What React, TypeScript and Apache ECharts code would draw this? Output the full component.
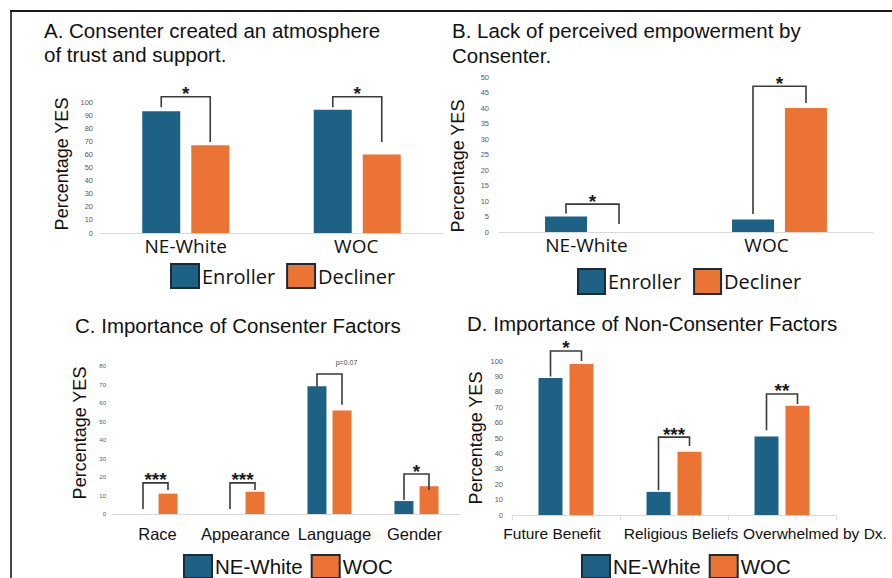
import React, { useEffect, useRef } from "react";
import * as echarts from "echarts";

// ---------- data ----------
const catsAB = ["NE-White", "WOC"];
const enrollerA = [93, 94];
const declinerA = [67, 60];
const bracketsA = [
  [0, 96, 104, 69.5],
  [1, 96, 104, 69.5],
];
const bracketLabelsA = ["*", "*"];

const enrollerB = [5, 4];
const declinerB = [0, 40];
const bracketsB = [
  [0, 6, 9, 2.6],
  [1, 5.8, 47, 41.6],
];
const bracketLabelsB = ["*", "*"];

const catsC = ["Race", "Appearance", "Language", "Gender"];
const neWhiteC = [0, 0, 69, 7];
const wocC = [11, 12, 56, 15];
const bracketsC = [
  [0, 2.7, 16.8, 13],
  [1, 2.7, 16.8, 13],
  [2, 69, 75.7, 59],
  [3, 7.6, 21.6, 13],
];
const bracketLabelsC = ["***", "***", "p=0.07", "*"];

const catsD = ["Future Benefit", "Religious Beliefs", "Overwhelmed by Dx."];
const neWhiteD = [89, 15, 51];
const wocD = [98, 41, 71];
const bracketsD = [
  [0, 90, 106.5, 100],
  [1, 16, 50.6, 44.8],
  [2, 55, 78.6, 72],
];
const bracketLabelsD = ["*", "***", "**"];

const titleA = ["A. Consenter created an atmosphere", "of trust and support."];
const titleB = ["B. Lack of perceived empowerment by", "Consenter."];
const titleC = "C. Importance of Consenter Factors";
const titleD = "D. Importance of Non-Consenter Factors";
const yName = "Percentage YES";

// ---------- styles ----------
const BLUE = "#1d6184";
const ORANGE = "#eb7434";
const WIDE = "Open Sans";
const ARIAL = "Liberation Sans";

function bracketSeries(
  idx: number,
  data: number[][],
  labels: string[],
  barW: number,
  gap: number
) {
  return {
    type: "custom",
    xAxisIndex: idx,
    yAxisIndex: idx,
    data,
    silent: true,
    clip: false,
    z: 5,
    renderItem: (params: any, api: any) => {
      const cat = api.value(0);
      const half = (barW + gap) / 2;
      const pL = api.coord([cat, api.value(1)]);
      const pT = api.coord([cat, api.value(2)]);
      const pR = api.coord([cat, api.value(3)]);
      const xl = pL[0] - half;
      const xr = pL[0] + half;
      const label = labels[params.dataIndex];
      const isP = label.startsWith("p");
      return {
        type: "group",
        children: [
          {
            type: "polyline",
            shape: {
              points: [
                [xl, pL[1]],
                [xl, pT[1]],
                [xr, pT[1]],
                [xr, pR[1]],
              ],
            },
            style: { stroke: "#3a3a3a", lineWidth: 1.6, fill: null },
          },
          {
            type: "text",
            x: isP ? (xl + xr) / 2 + 17 : (xl + xr) / 2,
            y: isP ? pT[1] - 11 : pT[1] - 3,
            style: {
              text: label,
              fontSize: isP ? 7 : 19,
              fontWeight: isP ? "normal" : "bold",
              fontFamily: ARIAL,
              textAlign: "center",
              textVerticalAlign: "middle",
              fill: isP ? "#444" : "#1a1a1a",
            },
          },
        ],
      };
    },
  };
}

function padLabels(shifts: number[]) {
  const rich: any = {};
  shifts.forEach((s, i) => {
    rich["l" + i] = {
      padding: s >= 0 ? [0, 0, 0, 2 * s] : [0, -2 * s, 0, 0],
    };
  });
  return rich;
}

export default function App() {
  const ref = useRef<HTMLDivElement>(null);
  useEffect(() => {
    if (!ref.current) return;
    const chart = echarts.init(ref.current, null, { renderer: "svg" });

    const grids = [
      { left: 100, top: 102, width: 343, height: 131 },
      { left: 499, top: 77, width: 374, height: 155 },
      { left: 112, top: 366, width: 348, height: 148 },
      { left: 512, top: 361, width: 324, height: 154 },
    ];

    const catLists = [catsAB, catsAB, catsC, catsD];
    const labelFonts = [
      { fontSize: 19, fontFamily: WIDE, margin: 3 },
      { fontSize: 19, fontFamily: WIDE, margin: 3 },
      { fontSize: 16.5, fontFamily: ARIAL, margin: 11 },
      { fontSize: 15.5, fontFamily: ARIAL, margin: 10 },
    ];
    const shifts = [
      [0, -1],
      [-6, -13],
      [2, 3, 5, -2],
      [-14, 7, 33],
    ];

    const xAxis = catLists.map((cats, i) => ({
      type: "category",
      gridIndex: i,
      data: cats,
      axisLine: { show: true, lineStyle: { color: "#d9d9d9", width: 1 } },
      axisTick: {
        show: i === 3,
        length: 5,
        lineStyle: { color: "#d9d9d9" },
      },
      axisLabel: {
        interval: 0,
        color: "#111",
        fontSize: labelFonts[i].fontSize,
        fontFamily: labelFonts[i].fontFamily,
        margin: labelFonts[i].margin,
        formatter: (v: string) => {
          const k = cats.indexOf(v);
          return "{l" + k + "|" + v + "}";
        },
        rich: padLabels(shifts[i]),
      },
    }));

    const yCfg = [
      { max: 100, interval: 10, fs: 7.5, margin: 7 },
      { max: 50, interval: 5, fs: 7.5, margin: 10 },
      { max: 80, interval: 10, fs: 6, margin: 6 },
      { max: 100, interval: 10, fs: 7.5, margin: 9 },
    ];
    const yAxis = yCfg.map((c, i) => ({
      type: "value",
      gridIndex: i,
      min: 0,
      max: c.max,
      interval: c.interval,
      splitLine: { show: false },
      axisLine: { show: false },
      axisTick: { show: false },
      axisLabel: {
        fontSize: c.fs,
        color: "#595959",
        fontFamily: ARIAL,
        margin: c.margin,
      },
    }));

    const bar = (
      name: string,
      idx: number,
      data: number[],
      color: string,
      w: number,
      gap: string
    ) => ({
      type: "bar",
      name,
      xAxisIndex: idx,
      yAxisIndex: idx,
      data,
      barWidth: w,
      barGap: gap,
      itemStyle: { color },
    });

    const series: any[] = [
      bar("Enroller", 0, enrollerA, BLUE, 38, "29%"),
      bar("Decliner", 0, declinerA, ORANGE, 38, "29%"),
      bar("Enroller", 1, enrollerB, BLUE, 42, "26%"),
      bar("Decliner", 1, declinerB, ORANGE, 42, "26%"),
      bar("NE-White", 2, neWhiteC, BLUE, 19, "32%"),
      bar("WOC", 2, wocC, ORANGE, 19, "32%"),
      bar("NE-White", 3, neWhiteD, BLUE, 24, "29%"),
      bar("WOC", 3, wocD, ORANGE, 24, "29%"),
      bracketSeries(0, bracketsA, bracketLabelsA, 38, 11),
      bracketSeries(1, bracketsB, bracketLabelsB, 42, 11),
      bracketSeries(2, bracketsC, bracketLabelsC, 19, 6),
      bracketSeries(3, bracketsD, bracketLabelsD, 24, 7),
    ];

    const legendBase = (
      data: string[],
      left: number,
      top: number,
      w: number,
      h: number,
      fs: number,
      gap: number,
      family: string
    ) => ({
      data,
      left,
      top,
      orient: "horizontal",
      padding: 0,
      itemWidth: w,
      itemHeight: h,
      itemGap: gap,
      icon: "rect",
      selectedMode: false,
      itemStyle: { borderColor: "#1c2b38", borderWidth: 2 },
      textStyle: {
        fontSize: fs,
        fontFamily: family,
        color: "#111",
        lineHeight: h - 2,
        padding: [0, 0, 0, -2],
      },
    });

    const titleStyle = {
      fontSize: 20.5,
      fontWeight: "normal",
      fontFamily: ARIAL,
      color: "#111",
      lineHeight: 22,
    };

    const yNames = [
      { x: 62, y: 164 },
      { x: 458, y: 166 },
      { x: 80, y: 433 },
      { x: 476, y: 438 },
    ];

    chart.setOption({
      animation: false,
      backgroundColor: "#ffffff",
      grid: grids,
      xAxis,
      yAxis,
      series,
      title: [
        { text: titleA[0], left: 44, top: 19, padding: 0, textStyle: titleStyle },
        { text: titleA[1], left: 44, top: 43, padding: 0, textStyle: titleStyle },
        { text: titleB[0], left: 452, top: 19, padding: 0, textStyle: titleStyle },
        { text: titleB[1], left: 452, top: 44, padding: 0, textStyle: titleStyle },
        { text: titleC, left: 75, top: 314, padding: 0, textStyle: titleStyle },
        { text: titleD, left: 467, top: 312, padding: 0, textStyle: titleStyle },
      ],
      legend: [
        legendBase(["Enroller", "Decliner"], 170, 263, 28, 24, 20, 11, WIDE),
        legendBase(["Enroller", "Decliner"], 577, 268, 27, 25, 20, 12, WIDE),
        legendBase(["NE-White", "WOC"], 183, 554, 28, 23, 20.5, 8, ARIAL),
        legendBase(["NE-White", "WOC"], 581, 554, 28, 23, 20.5, 8, ARIAL),
      ],
      graphic: [
        ...yNames.map((p) => ({
          type: "text",
          x: p.x,
          y: p.y,
          rotation: Math.PI / 2,
          style: {
            text: yName,
            fontSize: 18,
            fontFamily: ARIAL,
            fill: "#111",
            textAlign: "center",
            textVerticalAlign: "middle",
          },
        })),
        {
          type: "line",
          shape: { x1: 10, y1: 11, x2: 892, y2: 11 },
          style: { stroke: "#1a1a1a", lineWidth: 2 },
        },
        {
          type: "line",
          shape: { x1: 11, y1: 10, x2: 11, y2: 578 },
          style: { stroke: "#1a1a1a", lineWidth: 1.6 },
        },
      ],
    });
    return () => chart.dispose();
  }, []);

  return (
    <div
      ref={ref}
      style={{ position: "absolute", left: 0, top: 0, width: 892, height: 578 }}
    />
  );
}
